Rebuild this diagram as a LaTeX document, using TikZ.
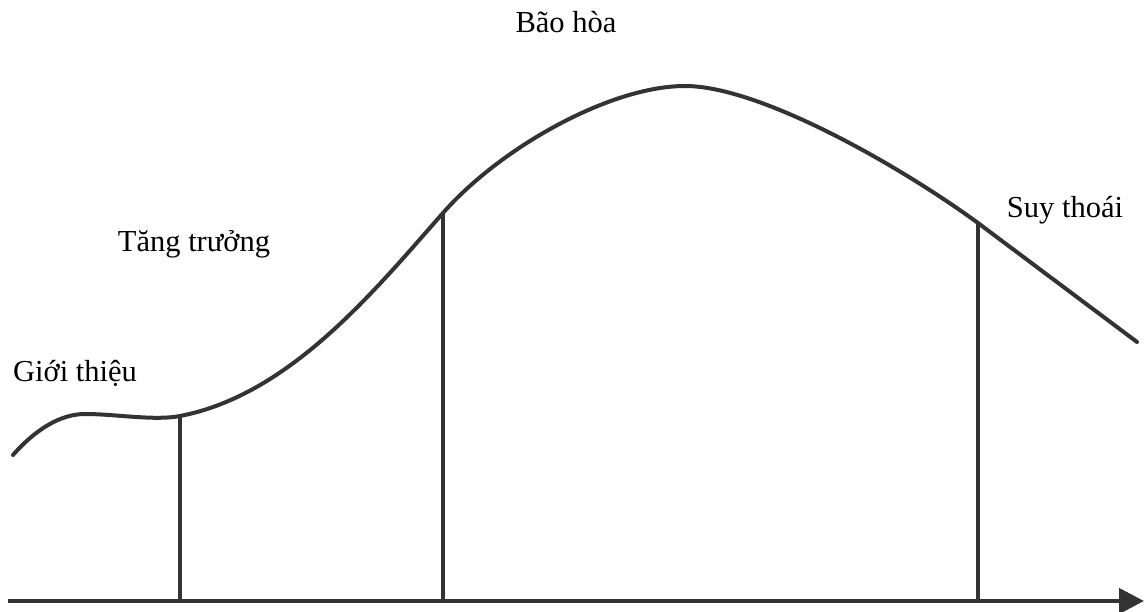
\documentclass[tikz,border=0pt]{standalone}
\usepackage{fontspec}
\setmainfont{Liberation Serif}
\usetikzlibrary{arrows.meta}
\definecolor{ink}{HTML}{333333}
\tikzset{
  lbl/.style={inner sep=0pt, anchor=base, text=black, font=\fontsize{30.5}{32}\selectfont},
  curveline/.style={draw=ink, line width=4pt, line cap=round, line join=round},
  divider/.style={draw=ink, line width=3.5pt},
  axisline/.style={draw=ink, line width=4.5pt, -{Triangle[length=25pt,width=25pt]}}
}
\begin{document}
\begin{tikzpicture}[x=1pt,y=-1pt]
\useasboundingbox (0,0) rectangle (1144,612);
% labels
\node[lbl] (intro) at (75,382) {Giới thiệu};
\node[lbl] (growth) at (194,252) {Tăng trưởng};
\node[lbl] (mature) at (566,33) {Bão hòa};
\node[lbl] (decline) at (1065,218) {Suy thoái};
% key points
\coordinate (s0) at (13,455);
\coordinate (c1) at (180,416);
\coordinate (c2) at (443,213);
\coordinate (pk) at (685,86);
\coordinate (c3) at (978,223);
\coordinate (e0) at (1137,342);
\coordinate (a0) at (8,601);
\coordinate (a1) at (1144,601);
\coordinate (b1) at (180,601);
\coordinate (b2) at (443,601);
\coordinate (b3) at (978,601);
% curve
\draw[curveline] (s0) .. controls (35,430) and (60,414) .. (85,414)
  .. controls (115,414) and (155,421) .. (c1)
  .. controls (290,395) and (375,290) .. (c2)
  .. controls (500,148) and (610,86) .. (pk)
  .. controls (760,86) and (900,166) .. (c3)
  -- (e0);
% dividers
\draw[divider] (c1) -- (b1);
\draw[divider] (c2) -- (b2);
\draw[divider] (c3) -- (b3);
% axis
\draw[axisline] (a0) -- (a1);
\end{tikzpicture}
\end{document}
